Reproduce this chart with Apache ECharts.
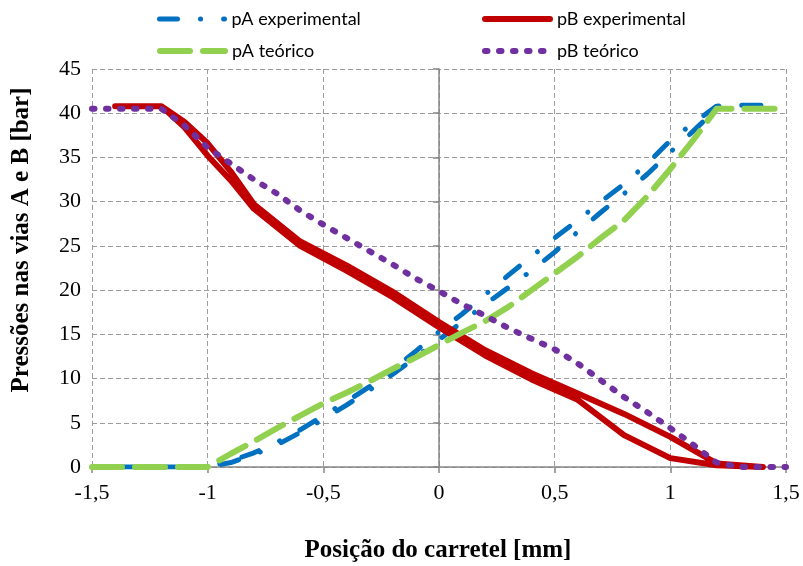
<!DOCTYPE html>
<html>
<head>
<meta charset="utf-8">
<script src="https://cdn.jsdelivr.net/npm/echarts@6/dist/echarts.min.js"></script>
<style>
  html, body { margin: 0; padding: 0; background: #fff; }
  #chart { width: 803px; height: 566px; }
</style>
</head>
<body>
<div id="chart"></div>
<script>
// Spool position [mm] and pressures [bar]

// pA experimental: measured going right, then coming back (hysteresis loop)
const posA_exp = [-1.4, -1.2, -1.0, -0.9, -0.8, -0.7, -0.6, -0.5, -0.4, -0.3, -0.2, -0.1, 0, 0.1, 0.2, 0.3, 0.4, 0.5, 0.6, 0.7, 0.8, 0.9, 1.0, 1.1, 1.2, 1.25, 1.3, 1.4,
                  1.4, 1.3, 1.25, 1.2, 1.1, 1.0, 0.9, 0.8, 0.7, 0.6, 0.5, 0.4, 0.3, 0.2, 0.1, 0, -0.1, -0.2, -0.3, -0.4, -0.5, -0.6, -0.7, -0.8, -0.9, -1.0, -1.2, -1.4];
const pA_exp = [0, 0, 0, 0.7, 1.6, 2.8, 4.2, 5.8, 7.4, 9.1, 11.0, 13.1, 15.3, 17.3, 19.5, 21.7, 23.8, 25.9, 27.9, 30.0, 32.0, 34.3, 36.9, 38.9, 40.8, 40.9, 40.9, 40.9,
                40.9, 40.9, 40.9, 40.5, 38.0, 35.6, 33.1, 30.9, 28.8, 26.6, 24.3, 22.2, 20.3, 18.4, 16.4, 14.4, 12.4, 10.5, 8.7, 7.0, 5.4, 3.9, 2.5, 1.4, 0.5, 0, 0, 0];

// pB experimental: upper branch going right, lower branch coming back
const posB_exp = [-1.4, -1.2, -1.1, -1.0, -0.9, -0.8, -0.6, -0.4, -0.2, 0, 0.2, 0.4, 0.6, 0.8, 1.0, 1.2, 1.4,
                  1.4, 1.2, 1.0, 0.8, 0.6, 0.4, 0.2, 0, -0.2, -0.4, -0.6, -0.8, -0.9, -1.0, -1.1, -1.2, -1.4];
const pB_exp = [40.8, 40.8, 39.0, 36.6, 33.4, 29.7, 25.5, 22.8, 19.8, 16.4, 13.2, 10.6, 8.3, 6.0, 3.4, 0.4, 0,
                0, 0.2, 1.0, 3.6, 7.6, 9.9, 12.6, 15.8, 19.2, 22.2, 25.0, 29.2, 32.4, 35.2, 38.4, 40.8, 40.8];

// pA teórico
const posA_teo = [-1.5, -1.4, -1.3, -1.2, -1.1, -1.0, -0.9, -0.8, -0.7, -0.6, -0.5, -0.4, -0.3, -0.2, -0.1, 0, 0.1, 0.2, 0.3, 0.4, 0.5, 0.6, 0.7, 0.8, 0.9, 1.0, 1.1, 1.2, 1.3, 1.4, 1.5];
const pA_teo = [0, 0, 0, 0, 0, 0, 1.5, 2.9, 4.4, 5.8, 7.2, 8.4, 9.7, 11.1, 12.4, 13.8, 15.2, 16.5, 18.1, 20.0, 21.9, 23.8, 25.9, 27.9, 30.6, 33.7, 37.0, 40.5, 40.5, 40.5, 40.5];

// pB teórico
const posB_teo = [-1.5, -1.4, -1.3, -1.2, -1.1, -1.0, -0.9, -0.8, -0.7, -0.6, -0.5, -0.4, -0.3, -0.2, -0.1, 0, 0.1, 0.2, 0.3, 0.4, 0.5, 0.6, 0.7, 0.8, 0.9, 1.0, 1.1, 1.2, 1.3, 1.4, 1.5];
const pB_teo = [40.5, 40.5, 40.5, 40.5, 38.6, 36.1, 34.3, 32.5, 30.9, 29.0, 27.4, 25.9, 24.4, 22.9, 21.3, 19.9, 18.4, 17.1, 15.7, 14.5, 13.3, 11.7, 9.8, 7.9, 6.2, 4.4, 2.5, 0.5, 0, 0, 0];

const seriesNames = ['pA experimental', 'pB experimental', 'pA teórico', 'pB teórico'];
const xTicks = { min: -1.5, max: 1.5, step: 0.5 };
const yTicks = { min: 0, max: 45, step: 5 };

const pairs = (xs, ys) => xs.map((x, i) => [x, ys[i]]);
const fmt = v => String(v).replace('.', ',');

const serif = '"Liberation Serif", "Times New Roman", serif';
const gridColor = '#9c9c9c';
const axisColor = '#868686';

function lineSeries(name, data, color, width, dash, z) {
  return {
    name, type: 'line', data, z,
    showSymbol: false, symbol: 'none', smooth: false,
    lineStyle: { color, width, type: dash, cap: 'round', join: 'round' },
    itemStyle: { color },
    emphasis: { disabled: true },
    silent: true
  };
}

// one legend entry per block so the 2x2 layout lines up in columns
function legendAt(name, left, top) {
  return {
    data: [name], left, top, padding: 0,
    itemWidth: 65, itemHeight: 14, itemGap: 0,
    selectedMode: false,
    itemStyle: { opacity: 0 },
    lineStyle: { width: 'inherit', type: 'inherit', cap: 'inherit' },
    textStyle: { fontFamily: 'Lato, "Open Sans", sans-serif', fontSize: 18, color: '#000', padding: [0, 0, 0, 2] }
  };
}

const chart = echarts.init(document.getElementById('chart'), null, { renderer: 'canvas' });
chart.setOption({
  animation: false,
  backgroundColor: '#fff',
  grid: { left: 92, right: 17, top: 69, bottom: 99, containLabel: false },
  legend: [
    legendAt(seriesNames[0], 157, 10),
    legendAt(seriesNames[1], 482, 10),
    legendAt(seriesNames[2], 157, 42),
    legendAt(seriesNames[3], 482, 42)
  ],
  xAxis: {
    type: 'value', min: xTicks.min, max: xTicks.max, interval: xTicks.step,
    axisLine: { show: true, onZero: false, lineStyle: { color: axisColor, width: 1.5 } },
    axisTick: { show: true, inside: false, length: 6, lineStyle: { color: axisColor, width: 1.5 } },
    axisLabel: { formatter: fmt, fontFamily: serif, fontSize: 22, color: '#000', margin: 15 },
    splitLine: { show: true, lineStyle: { color: gridColor, width: 1, type: [5, 3] } }
  },
  yAxis: {
    type: 'value', min: yTicks.min, max: yTicks.max, interval: yTicks.step,
    axisLine: { show: true, lineStyle: { color: axisColor, width: 1.5 } },
    axisTick: { show: true, inside: false, length: 6, lineStyle: { color: axisColor, width: 1.5 } },
    axisLabel: { formatter: fmt, fontFamily: serif, fontSize: 22, color: '#000', margin: 11 },
    splitLine: { show: true, lineStyle: { color: gridColor, width: 1, type: [5, 3] } }
  },
  graphic: [
    {
      type: 'text', x: 438, y: 551,
      style: { text: 'Posição do carretel [mm]', font: 'bold 25px ' + serif, fill: '#000', align: 'center', verticalAlign: 'middle' }
    },
    {
      type: 'text', x: 22, y: 240, rotation: Math.PI / 2,
      style: { text: 'Pressões nas vias A e B [bar]', font: 'bold 25px ' + serif, fill: '#000', align: 'center', verticalAlign: 'middle' }
    }
  ],
  series: [
    lineSeries(seriesNames[0], pairs(posA_exp, pA_exp), '#0070C0', 5, [18, 23, 0.1, 23], 2),
    lineSeries(seriesNames[1], pairs(posB_exp, pB_exp), '#C00000', 6, 'solid', 3),
    lineSeries(seriesNames[2], pairs(posA_teo, pA_teo), '#92D050', 6, [30, 13], 4),
    lineSeries(seriesNames[3], pairs(posB_teo, pB_teo), '#7030A0', 6, [2.5, 11.5], 5)
  ]
});
</script>
</body>
</html>
